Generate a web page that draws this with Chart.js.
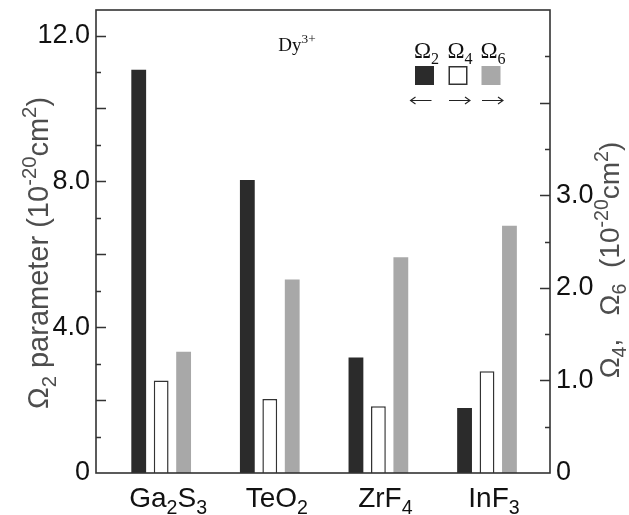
<!DOCTYPE html>
<html>
<head>
<meta charset="utf-8">
<script src="https://cdn.jsdelivr.net/npm/chart.js@4.4.0/dist/chart.umd.min.js"></script>
<style>
  html, body { margin: 0; padding: 0; background: #fff; }
  canvas { display: block; }
</style>
</head>
<body>
<canvas id="jo" width="629" height="515"></canvas>
<script>
// Judd-Ofelt parameters of Dy3+ in four hosts
const categories = ["Ga2S3", "TeO2", "ZrF4", "InF3"];
const omega2 = [11.06, 8.04, 3.17, 1.78];   // left axis
const omega4 = [1.00, 0.80, 0.72, 1.10];    // right axis
const omega6 = [1.31, 2.09, 2.33, 2.67];    // right axis
const leftLabels = [0, 4, 8, 12];
const rightLabels = [0, 1, 2, 3];

const DARK = "#2b2b2b";
const GRAY = "#a8a8a8";
const LINE = "#333333";
const SANS = "'Liberation Sans', Arial, sans-serif";
const SERIF = "'Liberation Serif', 'Times New Roman', serif";

/* ---------- rich text (sub / superscripts) ---------- */

// parts: [text, kind] with kind 0 = normal, -1 = sub, 1 = sup
function richWidth(ctx, parts, size, family) {
  let w = 0;
  parts.forEach(([t, k]) => {
    ctx.font = (k ? size * 0.7 : size) + "px " + family;
    w += ctx.measureText(t).width;
  });
  return w;
}

function drawRich(ctx, parts, x, y, size, family, color) {
  const w = richWidth(ctx, parts, size, family);
  let cx = x - w / 2;
  ctx.fillStyle = color;
  ctx.textAlign = "left";
  ctx.textBaseline = "alphabetic";
  parts.forEach(([t, k]) => {
    ctx.font = (k ? size * 0.7 : size) + "px " + family;
    const dy = k === -1 ? size * 0.26 : k === 1 ? -size * 0.4 : 0;
    ctx.fillText(t, cx, y + dy);
    cx += ctx.measureText(t).width;
  });
}

// "Ga2S3" -> digits become subscripts
function chemParts(name) {
  return name.match(/[0-9]+|[^0-9]+/g).map((s) => [s, /[0-9]/.test(s) ? -1 : 0]);
}

function arrow(ctx, x0, x1, y) {
  const dir = Math.sign(x1 - x0);
  ctx.beginPath();
  ctx.moveTo(x0, y);
  ctx.lineTo(x1, y);
  ctx.moveTo(x1 - dir * 5, y - 3.5);
  ctx.lineTo(x1, y);
  ctx.lineTo(x1 - dir * 5, y + 3.5);
  ctx.stroke();
}

/* ---------- decorations plugin ---------- */

const decor = {
  id: "decor",
  afterDatasetsDraw(chart) {
    const { ctx, chartArea: a, scales } = chart;
    ctx.save();

    // frame
    ctx.strokeStyle = LINE;
    ctx.lineWidth = 1.6;
    ctx.strokeRect(a.left, a.top, a.right - a.left, a.bottom - a.top);

    // inward tick marks
    ctx.lineWidth = 1.4;
    ctx.beginPath();
    scales.yL.ticks.forEach((t) => {
      if (t.value <= 0 || t.value >= scales.yL.max) return;
      const y = Math.round(scales.yL.getPixelForValue(t.value)) + 0.5;
      const len = t.value % 2 === 0 ? 10 : 5;
      ctx.moveTo(a.left, y);
      ctx.lineTo(a.left + len, y);
    });
    scales.yR.ticks.forEach((t) => {
      if (t.value <= 0 || t.value >= scales.yR.max) return;
      const y = Math.round(scales.yR.getPixelForValue(t.value)) + 0.5;
      const len = Number.isInteger(t.value) ? 10 : 5;
      ctx.moveTo(a.right, y);
      ctx.lineTo(a.right - len, y);
    });
    ctx.stroke();

    // category labels
    categories.forEach((c, i) => {
      const x = scales.x.getPixelForValue(i) + 7;
      drawRich(ctx, chemParts(c), x, 507, 28, SANS, "#111");
    });

    // axis titles
    ctx.save();
    ctx.translate(48, 253);
    ctx.rotate(-Math.PI / 2);
    drawRich(ctx, [["\u03A9", 0], ["2", -1], [" parameter (10", 0], ["-20", 1], ["cm", 0], ["2", 1], [")", 0]],
      0, 0, 29, SANS, "#4d4d4d");
    ctx.restore();

    ctx.save();
    ctx.translate(619, 260);
    ctx.rotate(-Math.PI / 2);
    drawRich(ctx, [["\u03A9", 0], ["4", -1], [",   \u03A9", 0], ["6", -1], ["  (10", 0], ["-20", 1], ["cm", 0], ["2", 1], [")", 0]],
      0, 0, 28, SANS, "#4d4d4d");
    ctx.restore();

    // Dy3+ note
    drawRich(ctx, [["Dy", 0], ["3+", 1]], 297, 51, 19, SERIF, "#111");

    // legend: symbol, swatch, arrow showing which axis
    const items = [
      { ds: chart.data.datasets[0], cx: 424.5, arrowDir: -1 },
      { ds: chart.data.datasets[1], cx: 458, arrowDir: 1 },
      { ds: chart.data.datasets[2], cx: 491, arrowDir: 1 },
    ];
    items.forEach((it) => {
      const lab = it.ds.label;
      drawRich(ctx, [[lab[0], 0], [lab.slice(1), -1]], it.cx + 2, 58, 23, SERIF, "#111");
      ctx.fillStyle = it.ds.backgroundColor;
      ctx.fillRect(it.cx - 9.5, 66, 19, 19);
      if (it.ds.borderWidth) {
        ctx.strokeStyle = it.ds.borderColor;
        ctx.lineWidth = 1.5;
        ctx.strokeRect(it.cx - 8.75, 66.75, 17.5, 17.5);
      }
      ctx.strokeStyle = "#222";
      ctx.lineWidth = 1.1;
      if (it.arrowDir < 0) arrow(ctx, it.cx + 7, it.cx - 14, 100.5);
      else arrow(ctx, it.cx - 9, it.cx + 12, 100.5);
    });

    ctx.restore();
  },
};

/* ---------- chart ---------- */

const toPoints = (arr) => arr.map((v, i) => ({ x: i, y: v }));
const tickFont = { family: SANS, size: 27 };
const noPad = (s) => { s.paddingTop = 0; s.paddingBottom = 0; s.paddingLeft = 0; s.paddingRight = 0; };

new Chart(document.getElementById("jo"), {
  type: "bar",
  data: {
    datasets: [
      { label: "\u03A92", data: toPoints(omega2), yAxisID: "yL", backgroundColor: DARK, borderWidth: 0 },
      { label: "\u03A94", data: toPoints(omega4), yAxisID: "yR", backgroundColor: "#ffffff", borderColor: LINE, borderWidth: 1.5 },
      { label: "\u03A96", data: toPoints(omega6), yAxisID: "yR", backgroundColor: GRAY, borderWidth: 0 },
    ],
  },
  options: {
    responsive: false,
    animation: false,
    devicePixelRatio: 1,
    layout: { padding: { top: 10 } },
    datasets: { bar: { categoryPercentage: 0.62, barPercentage: 0.66 } },
    plugins: { legend: { display: false }, tooltip: { enabled: false } },
    scales: {
      x: {
        type: "linear",
        offset: false,
        min: -0.6,
        max: 3.58,
        grid: { display: false, drawTicks: false },
        border: { display: false },
        ticks: { display: false },
        afterBuildTicks: (s) => { s.ticks = categories.map((c, i) => ({ value: i })); },
        afterFit: (s) => { s.height = 42; noPad(s); },
      },
      yL: {
        position: "left",
        min: 0,
        max: 12.7,
        grid: { display: false, drawTicks: false },
        border: { display: false },
        ticks: {
          stepSize: 1,
          includeBounds: false,
          autoSkip: false,
          padding: 6,
          color: "#111",
          font: tickFont,
          callback: (v) => (leftLabels.includes(v) ? (v === 0 ? "0" : v.toFixed(1)) : ""),
        },
        afterFit: (s) => { s.width = 96; noPad(s); },
      },
      yR: {
        position: "right",
        min: 0,
        max: 5,
        grid: { display: false, drawTicks: false },
        border: { display: false },
        ticks: {
          stepSize: 0.5,
          includeBounds: false,
          autoSkip: false,
          padding: 6,
          color: "#111",
          font: tickFont,
          callback: (v) => (rightLabels.includes(v) ? (v === 0 ? "0" : v.toFixed(1)) : ""),
        },
        afterFit: (s) => { s.width = 79; noPad(s); },
      },
    },
  },
  plugins: [decor],
});
</script>
</body>
</html>
